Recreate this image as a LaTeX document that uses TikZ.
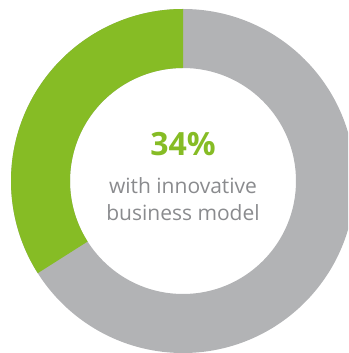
\documentclass[tikz,border=0pt]{standalone}
\usepackage{fontspec}
\setmainfont{Open Sans}
\usepackage{xcolor}
\usetikzlibrary{positioning}
\definecolor{ringgreen}{HTML}{86BC25}
\definecolor{ringgray}{HTML}{B2B3B5}
\definecolor{textgray}{HTML}{8A8B8E}

\begin{document}
\begin{tikzpicture}[x=1pt,y=1pt]
        %Frame
            \useasboundingbox (0,0) rectangle (348,353);
            \clip (0,0) rectangle (348,353);
            \coordinate (center) at (183,172);
        %Gray ring
            \fill[ringgray,even odd rule] (center) circle (172) (center) circle (113);
        %Green share
            \fill[ringgreen] ([shift={(90:172)}]center) arc (90:212.4:172)
                -- ([shift={(212.4:113)}]center) arc (212.4:90:113) -- cycle;
        %Labels
            \node[anchor=base,text=ringgreen,font=\fontsize{32}{32}\selectfont\bfseries] (share) at (183,197) {34\%};
            \node[anchor=base,text=textgray,font=\fontsize{21}{21}\selectfont] (line1) at (183,159) {with innovative};
            \node[anchor=base,text=textgray,font=\fontsize{21}{21}\selectfont] (line2) at (183,132) {business model};
    \end{tikzpicture}
\end{document}
